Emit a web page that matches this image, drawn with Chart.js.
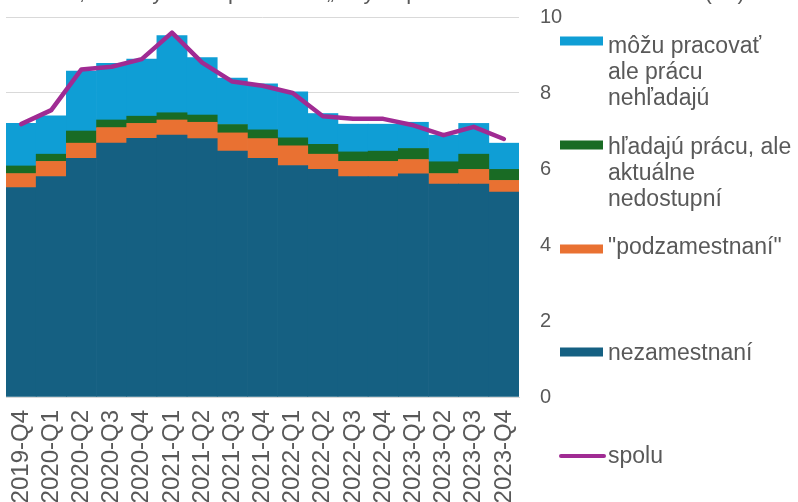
<!DOCTYPE html>
<html><head><meta charset="utf-8">
<script src="https://cdn.jsdelivr.net/npm/chart.js@4/dist/chart.umd.min.js"></script>
<style>html,body{margin:0;padding:0;background:#fff}#w{width:798px;height:502px;position:relative}canvas{display:block}</style>
</head><body><div id="w"><canvas id="c" width="798" height="502"></canvas></div>
<script>
const categories = ["2019-Q4","2020-Q1","2020-Q2","2020-Q3","2020-Q4","2021-Q1","2021-Q2","2021-Q3","2021-Q4","2022-Q1","2022-Q2","2022-Q3","2022-Q4","2023-Q1","2023-Q2","2023-Q3","2023-Q4"];
const nezamestnani = [5.51,5.80,6.28,6.68,6.81,6.89,6.80,6.47,6.28,6.09,5.99,5.80,5.80,5.87,5.60,5.60,5.39];
const podzamestnani = [0.37,0.40,0.40,0.41,0.39,0.40,0.43,0.48,0.52,0.52,0.40,0.40,0.40,0.38,0.28,0.39,0.31];
const hladajuNedostupni = [0.20,0.19,0.32,0.20,0.19,0.19,0.19,0.22,0.23,0.21,0.26,0.25,0.27,0.29,0.31,0.40,0.29];
const mozuNehladaju = [1.12,1.01,1.58,1.49,1.50,2.03,1.51,1.22,1.21,1.21,0.81,0.73,0.71,0.69,0.70,0.81,0.69];
const spolu = [7.18,7.55,8.62,8.69,8.89,9.59,8.80,8.30,8.19,8.00,7.39,7.32,7.32,7.15,6.89,7.11,6.79];
const yTicks = [0,2,4,6,8,10];
const seriesNames = ["nezamestnaní", "\"podzamestnaní\"", "hľadajú prácu, ale aktuálne nedostupní", "môžu pracovať ale prácu nehľadajú", "spolu"];
const legendLines = [["môžu pracovať","ale prácu","nehľadajú"],["hľadajú prácu, ale","aktuálne","nedostupní"],["\"podzamestnaní\""],["nezamestnaní"],["spolu"]];
const titleText = "Ľudia, ktorí by mohli pracovať: „skrytá“ pracovná sila a nezamestnaní (% )";

const FONT = "'Liberation Sans', Arial, sans-serif";
const GREY = "#595959";

const legendPlugin = {
  id: 'customLegend',
  afterDraw(chart) {
    const ctx = chart.ctx;
    ctx.save();
    ctx.font = "22px " + FONT;
    ctx.fillStyle = GREY;
    ctx.textAlign = "center";
    ctx.textBaseline = "alphabetic";
    ctx.fillText(titleText, 385, -1);
    const items = [
      {ds: 3, boxY: 41, lines: legendLines[0], textY: 53},
      {ds: 2, boxY: 145, lines: legendLines[1], textY: 154},
      {ds: 1, boxY: 249, lines: legendLines[2], textY: 254},
      {ds: 0, boxY: 352, lines: legendLines[3], textY: 360},
      {ds: 4, boxY: 456, lines: legendLines[4], textY: 463, line: true}
    ];
    ctx.textAlign = "left";
    ctx.font = "23px " + FONT;
    items.forEach(it => {
      const d = chart.data.datasets[it.ds];
      if (it.line) {
        ctx.strokeStyle = d.borderColor;
        ctx.lineWidth = 4;
        ctx.lineCap = "round";
        ctx.beginPath(); ctx.moveTo(561, it.boxY); ctx.lineTo(604, it.boxY); ctx.stroke();
      } else {
        ctx.fillStyle = d.backgroundColor;
        ctx.fillRect(560, it.boxY - 4.5, 43, 9);
      }
      ctx.fillStyle = GREY;
      it.lines.forEach((t, i) => ctx.fillText(t, 608, it.textY + i * 26));
    });
    ctx.restore();
  }
};

new Chart(document.getElementById('c'), {
  data: {
    labels: categories,
    datasets: [
      {type:'bar', label: seriesNames[0], data: nezamestnani, backgroundColor:'#156082', stack:'s', order:2},
      {type:'bar', label: seriesNames[1], data: podzamestnani, backgroundColor:'#E97132', stack:'s', order:2},
      {type:'bar', label: seriesNames[2], data: hladajuNedostupni, backgroundColor:'#196B24', stack:'s', order:2},
      {type:'bar', label: seriesNames[3], data: mozuNehladaju, backgroundColor:'#0F9ED5', stack:'s', order:2},
      {type:'line', label: seriesNames[4], data: spolu, borderColor:'#A02B93', borderWidth:4.5, pointRadius:0, tension:0, order:1, borderJoinStyle:'round', borderCapStyle:'round'}
    ]
  },
  options: {
    responsive: false,
    animation: false,
    devicePixelRatio: 1,
    layout: {padding: {left: 6, top: 17, right: 219, bottom: 0}},
    datasets: {bar: {barPercentage: 1, categoryPercentage: 1, borderWidth: 0}},
    plugins: {legend: {display: false}, tooltip: {enabled: false}, title: {display: false}},
    scales: {
      x: {
        stacked: true,
        grid: {display: false, drawTicks: false},
        border: {display: true, color: '#D9D9D9'},
        ticks: {color: GREY, font: {family: FONT, size: 24}, maxRotation: 90, minRotation: 90, padding: 13, autoSkip: false},
        afterFit(s) { s.height = 105; }
      },
      y: {
        stacked: true,
        position: 'right',
        min: 0, max: 10,
        afterBuildTicks(s) { s.ticks = yTicks.map(v => ({value: v})); },
        grid: {color: '#D9D9D9', lineWidth: 1, drawTicks: true, tickLength: 18, tickColor: 'rgba(0,0,0,0)'},
        border: {display: false},
        ticks: {color: GREY, font: {family: FONT, size: 20}, padding: 3},
        afterFit(s) { s.width = 60; }
      }
    }
  },
  plugins: [legendPlugin]
});
</script></body></html>
